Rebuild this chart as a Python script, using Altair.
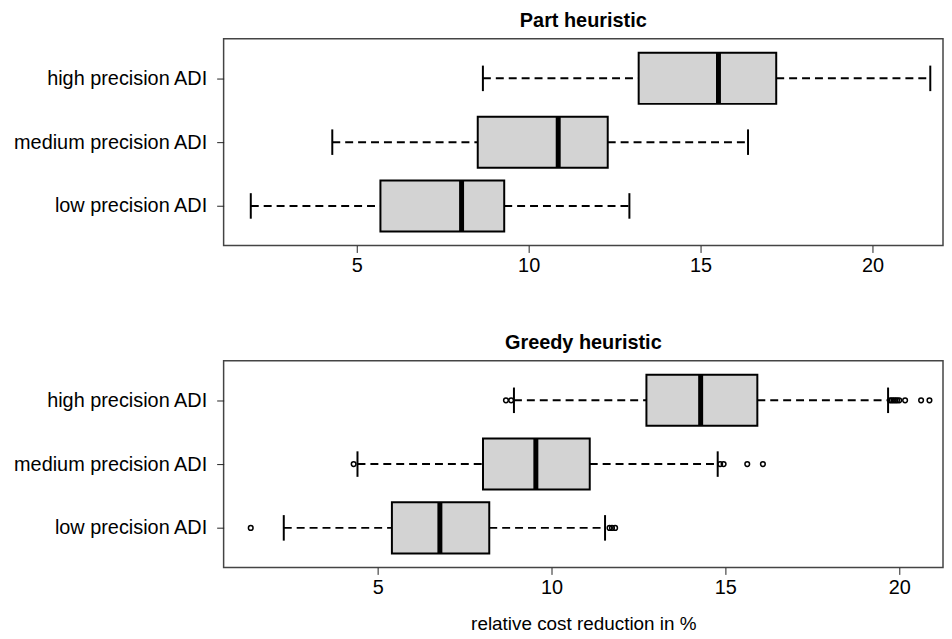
import altair as alt
import pandas as pd

FONT = "Liberation Sans"

categories = ["low precision ADI", "medium precision ADI", "high precision ADI"]

# Part heuristic (top panel) box statistics
part_whisker_low = [1.92, 4.29, 8.67]
part_q1 = [5.69, 8.52, 13.20]
part_median = [8.05, 10.86, 15.52]
part_q3 = [9.29, 12.30, 17.20]
part_whisker_high = [12.93, 16.38, 21.68]

# Greedy heuristic (bottom panel) box statistics
greedy_whisker_low = [2.30, 4.42, 8.92]
greedy_q1 = [5.41, 8.03, 12.73]
greedy_median = [6.79, 9.55, 14.29]
greedy_q3 = [8.21, 11.10, 15.92]
greedy_whisker_high = [11.54, 14.78, 19.68]

greedy_outlier_group = (
    ["low precision ADI"] * 4
    + ["medium precision ADI"] * 5
    + ["high precision ADI"] * 11
)
greedy_outlier_value = [
    1.35, 11.67, 11.74, 11.83,
    4.31, 14.85, 14.95, 15.63, 16.08,
    8.69, 8.84, 19.74, 19.79, 19.84, 19.89, 19.94, 20.00, 20.17, 20.63, 20.87,
]

x_ticks = [5, 10, 15, 20]
part_x_domain = [1.13, 22.05]
greedy_x_domain = [0.57, 21.26]

label_expr = " : ".join(
    f"datum.value == {i + 1} ? '{c}'" for i, c in enumerate(categories[:-1])
) + f" : '{categories[-1]}'"


def make_panel(title, wl, q1, med, q3, wh, out_group, out_val, x_domain, x_title):
    pos_of = {c: i + 1 for i, c in enumerate(categories)}
    stats = pd.DataFrame({
        "group": categories,
        "pos": [pos_of[c] for c in categories],
        "wl": wl, "q1": q1, "med": med, "q3": q3, "wh": wh,
    })
    xs = alt.Scale(domain=x_domain, nice=False, zero=False)
    ys = alt.Scale(domain=[0.38, 3.62], nice=False, zero=False)
    xaxis = alt.Axis(
        values=x_ticks, grid=False, domain=False, tickSize=7, tickColor="#222",
        tickWidth=1, labelFont=FONT, labelFontSize=20, labelColor="black",
        labelPadding=3, titleFont=FONT, titleFontSize=19, titleFontWeight="normal",
        titleColor="black", titlePadding=17,
    )
    yaxis = alt.Axis(
        values=[1, 2, 3], labelExpr=label_expr, grid=False, domain=False,
        tickSize=7, tickColor="#222", tickWidth=1, labelFont=FONT,
        labelFontSize=20, labelColor="black", labelPadding=10, labelLimit=400,
        minExtent=216, maxExtent=216,
    )

    def X(f):
        if x_title:
            return alt.X(f"{f}:Q", scale=xs, axis=xaxis, title=x_title)
        return alt.X(f"{f}:Q", scale=xs, axis=xaxis, title=None)

    def Y(f):
        return alt.Y(f"{f}:Q", scale=ys, axis=yaxis, title=None)

    base = alt.Chart(stats).transform_calculate(
        box_lo="datum.pos - 0.4", box_hi="datum.pos + 0.4",
        st_lo="datum.pos - 0.2", st_hi="datum.pos + 0.2",
    )
    whisk_lo = base.mark_rule(color="black", strokeWidth=2, strokeDash=[8, 5]).encode(
        x=X("wl"), x2="q1", y=Y("pos"))
    whisk_hi = base.mark_rule(color="black", strokeWidth=2, strokeDash=[8, 5]).encode(
        x=X("q3"), x2="wh", y=Y("pos"))
    box = base.mark_bar(fill="#D3D3D3", stroke="black", strokeWidth=2).encode(
        x=X("q1"), x2="q3", y=Y("box_lo"), y2="box_hi")
    median = base.mark_rule(color="black", strokeWidth=5).encode(
        x=X("med"), y=Y("box_lo"), y2="box_hi")
    staple_lo = base.mark_rule(color="black", strokeWidth=2).encode(
        x=X("wl"), y=Y("st_lo"), y2="st_hi")
    staple_hi = base.mark_rule(color="black", strokeWidth=2).encode(
        x=X("wh"), y=Y("st_lo"), y2="st_hi")
    layers = [whisk_lo, whisk_hi, box, median, staple_lo, staple_hi]
    if out_val:
        odf = pd.DataFrame({"group": out_group, "val": out_val})
        odf["pos"] = [pos_of[g] for g in out_group]
        outl = alt.Chart(odf).mark_point(
            shape="circle", filled=False, color="black", size=22, strokeWidth=1.5,
            opacity=1,
        ).encode(x=X("val"), y=Y("pos"))
        layers.append(outl)
    return alt.layer(*layers).properties(
        width=724, height=208,
        title=alt.TitleParams(title, font=FONT, fontSize=20, fontWeight="bold",
                              color="black", anchor="middle", offset=8),
    )


top = make_panel("Part heuristic", part_whisker_low, part_q1, part_median, part_q3,
                 part_whisker_high, [], [], part_x_domain, "")
bottom = make_panel("Greedy heuristic", greedy_whisker_low, greedy_q1, greedy_median,
                    greedy_q3, greedy_whisker_high, greedy_outlier_group,
                    greedy_outlier_value, greedy_x_domain, "relative cost reduction in %")

chart = alt.vconcat(top, bottom, spacing=56).properties(
    padding={"left": 0, "right": 0, "top": 0, "bottom": 0},
    background="white",
).configure_view(stroke="#444", strokeWidth=1.5)

chart.save("out.html", embed_options={"renderer": "svg", "actions": False})
